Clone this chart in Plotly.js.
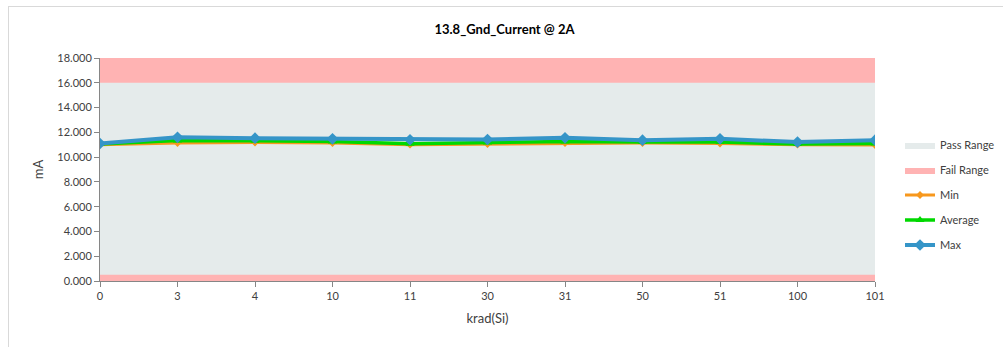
<!DOCTYPE html>
<html>
<head>
<meta charset="utf-8">
<script src="https://cdn.plot.ly/plotly-3.0.1.min.js"></script>
<style>
  html, body { margin: 0; padding: 0; background: #fff; }
  #wrap { position: relative; width: 1003px; height: 347px; }
  #chart { width: 1003px; height: 347px; }
  #frame { position: absolute; left: 8px; top: 6px; width: 1000px; height: 400px;
           border-left: 1px solid #d9d9d9; border-top: 1px solid #d9d9d9; pointer-events: none; }
</style>
</head>
<body>
<div id="wrap">
  <div id="chart"></div>
  <div id="frame"></div>
</div>
<script>
const categories = ['0', '3', '4', '10', '11', '30', '31', '50', '51', '100', '101'];
const minValues = [11.00, 11.13, 11.18, 11.13, 11.00, 11.05, 11.13, 11.13, 11.10, 11.00, 10.97];
const avgValues = [11.05, 11.34, 11.32, 11.26, 11.08, 11.18, 11.26, 11.21, 11.21, 11.05, 11.10];
const maxValues = [11.10, 11.60, 11.53, 11.48, 11.40, 11.42, 11.56, 11.37, 11.48, 11.21, 11.37];
const failUpper = categories.map(() => 18);
const passUpper = categories.map(() => 16);
const failLower = categories.map(() => 0.5);
const yTicks = [0, 2, 4, 6, 8, 10, 12, 14, 16, 18];

const FONT = 'Lato, "Open Sans", sans-serif';
const PINK = '#FFB3B3';
const GRAY = '#E5EBEB';

const traces = [
  { x: categories, y: failUpper, type: 'scatter', mode: 'lines', fill: 'tozeroy', legendgroup: 'g2',
    fillcolor: PINK, line: { width: 0, color: PINK }, name: 'Fail Range', legendrank: 2, hoverinfo: 'skip' },
  { x: categories, y: passUpper, type: 'scatter', mode: 'lines', fill: 'tozeroy', legendgroup: 'g1',
    fillcolor: GRAY, line: { width: 0, color: GRAY }, name: 'Pass Range', legendrank: 1, hoverinfo: 'skip' },
  { x: categories, y: failLower, type: 'scatter', mode: 'lines', fill: 'tozeroy', legendgroup: 'g2',
    fillcolor: PINK, line: { width: 0, color: PINK }, name: 'Fail Range', showlegend: false, hoverinfo: 'skip' },
  { x: categories, y: minValues, type: 'scatter', mode: 'lines+markers', name: 'Min', legendrank: 3, legendgroup: 'g3',
    line: { color: '#F7981D', width: 3 }, marker: { symbol: 'diamond', size: 6, color: '#F7981D' } },
  { x: categories, y: avgValues, type: 'scatter', mode: 'lines+markers', name: 'Average', legendrank: 4, legendgroup: 'g4',
    line: { color: '#00D800', width: 3.5 }, marker: { symbol: 'triangle-up', size: 8, color: '#00D800' } },
  { x: categories, y: maxValues, type: 'scatter', mode: 'lines+markers', name: 'Max', legendrank: 5, legendgroup: 'g5',
    line: { color: '#3595C8', width: 4 }, marker: { symbol: 'diamond', size: 9, color: '#3595C8' } }
];

const layout = {
  width: 1003, height: 347,
  margin: { l: 100, r: 128, t: 58, b: 66, autoexpand: false },
  paper_bgcolor: '#ffffff', plot_bgcolor: '#ffffff',
  font: { family: FONT, size: 11, color: '#404040' },
  title: { text: '<b>13.8_Gnd_Current @ 2A</b>', font: { family: FONT, size: 13, color: '#000' },
           x: 0.503, xanchor: 'center', y: 0.915, yanchor: 'middle' },
  xaxis: {
    type: 'category', range: [0, categories.length - 1],
    showline: true, linecolor: '#868686', linewidth: 1,
    ticks: 'outside', ticklen: 5, tickcolor: '#868686',
    showgrid: false, zeroline: false,
    tickfont: { family: FONT, size: 11, color: '#404040' },
    title: { text: 'krad(Si)', font: { family: FONT, size: 13, color: '#404040' }, standoff: 12 }
  },
  yaxis: {
    range: [0, 18], tickvals: yTicks, ticktext: yTicks.map(v => v.toFixed(3)),
    showline: true, linecolor: '#868686', linewidth: 1,
    ticks: 'outside', ticklen: 5, tickcolor: '#868686',
    showgrid: false, zeroline: false,
    tickfont: { family: FONT, size: 11, color: '#404040' },
    title: { text: 'mA', font: { family: FONT, size: 13, color: '#404040' }, standoff: 10 }
  },
  legend: {
    xref: 'paper', yref: 'paper', xanchor: 'left', yanchor: 'middle',
    x: (900 - 100) / 775, y: (281 - 195) / 223,
    traceorder: 'grouped',
    font: { family: FONT, size: 11, color: '#404040' },
    tracegroupgap: 6, itemwidth: 30, bgcolor: 'rgba(0,0,0,0)'
  },
  showlegend: true
};

Plotly.newPlot('chart', traces, layout, { displayModeBar: false, staticPlot: true });
</script>
</body>
</html>
